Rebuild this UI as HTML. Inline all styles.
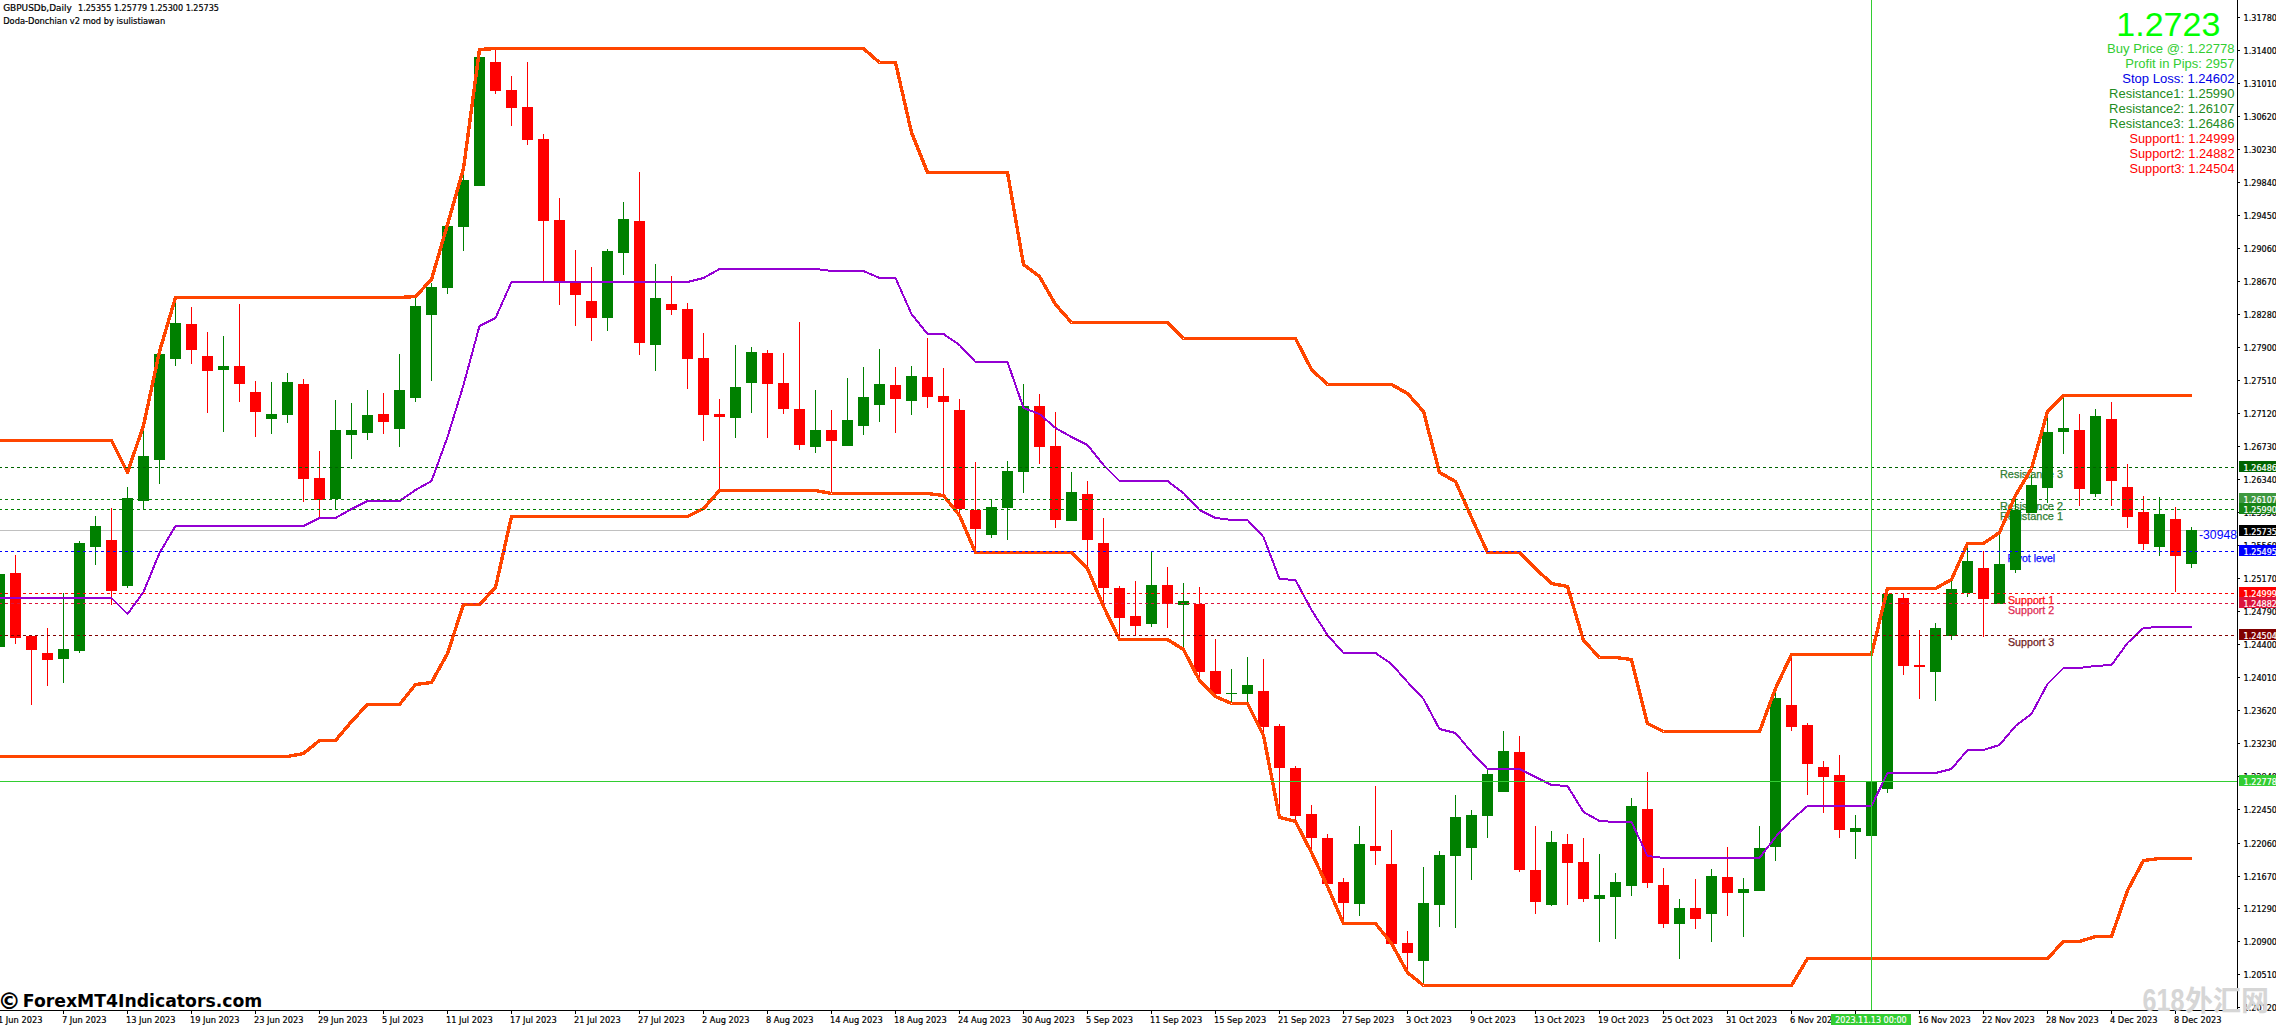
<!DOCTYPE html><html><head><meta charset="utf-8"><title>GBPUSDb Daily - Doda-Donchian</title>
<style>html,body{margin:0;padding:0;background:#fff;width:2276px;height:1025px;overflow:hidden}svg{display:block;position:absolute;left:0;top:0}text{font-family:"Liberation Sans","Noto Sans CJK SC",sans-serif}.s,.w{font-family:"DejaVu Sans Condensed","Liberation Sans",sans-serif;font-size:9.2px}.s{fill:#000;stroke:#000;stroke-width:.2px}.w{fill:#fff;stroke:#fff;stroke-width:.2px}.wm{font-family:"DejaVu Sans","Liberation Sans",sans-serif;font-weight:bold}</style></head><body>
<svg width="2276" height="1025" viewBox="0 0 2276 1025">
<rect width="2276" height="1025" fill="#fff"/>
<text x="2000" y="478" textLength="63" lengthAdjust="spacingAndGlyphs" fill="#2f7d32" font-size="11" stroke="#2f7d32" stroke-width=".25">Resistance 3</text>
<text x="2000" y="509.6" textLength="63" lengthAdjust="spacingAndGlyphs" fill="#2f7d32" font-size="11" stroke="#2f7d32" stroke-width=".25">Resistance 2</text>
<text x="2000" y="519.8" textLength="63" lengthAdjust="spacingAndGlyphs" fill="#2f7d32" font-size="11" stroke="#2f7d32" stroke-width=".25">Resistance 1</text>
<text x="2007.5" y="562" textLength="47.7" lengthAdjust="spacingAndGlyphs" fill="#0a0aff" font-size="11" stroke="#0a0aff" stroke-width=".25">Pivot level</text>
<text x="2008" y="603.6" textLength="46.2" lengthAdjust="spacingAndGlyphs" fill="#ff1010" font-size="11" stroke="#ff1010" stroke-width=".25">Support 1</text>
<text x="2008" y="613.8" textLength="46.2" lengthAdjust="spacingAndGlyphs" fill="#e02850" font-size="11" stroke="#e02850" stroke-width=".25">Support 2</text>
<text x="2008" y="646" textLength="46.2" lengthAdjust="spacingAndGlyphs" fill="#702020" font-size="11" stroke="#702020" stroke-width=".25">Support 3</text>
<g shape-rendering="crispEdges">
<rect x="0" y="530" width="2237" height="1" fill="#c0c0c0"/>
<defs><clipPath id="cp"><rect x="0" y="0" width="2237" height="1010"/></clipPath></defs>
<path fill="#008000" d="M-1 574v73h1v-73zM63 593v90h1v-90zM79 541v112h1v-112zM95 516v49h1v-49zM127 487v101h1v-101zM143 430v79h1v-79zM159 354v130h1v-130zM175 299v67h1v-67zM223 336v96h1v-96zM271 382v52h1v-52zM287 373v50h1v-50zM335 400v109h1v-109zM351 403v56h1v-56zM367 390v50h1v-50zM399 354v93h1v-93zM415 298v104h1v-104zM431 283v98h1v-98zM447 226v68h1v-68zM463 174v77h1v-77zM479 57v129h1v-129zM607 249v82h1v-82zM623 202v73h1v-73zM655 264v107h1v-107zM735 345v93h1v-93zM751 347v66h1v-66zM815 390v63h1v-63zM847 378v68h1v-68zM863 367v68h1v-68zM879 349v73h1v-73zM911 366v49h1v-49zM991 500v38h1v-38zM1007 461v79h1v-79zM1023 384v109h1v-109zM1071 472v49h1v-49zM1151 551v76h1v-76zM1183 583v65h1v-65zM1231 669v33h1v-33zM1247 657v45h1v-45zM1359 826v90h1v-90zM1423 867v117h1v-117zM1439 851v76h1v-76zM1455 795v133h1v-133zM1471 810v70h1v-70zM1487 770v68h1v-68zM1503 731v61h1v-61zM1551 831v75h1v-75zM1599 854v88h1v-88zM1615 873v66h1v-66zM1631 798v98h1v-98zM1679 899v60h1v-60zM1711 869v73h1v-73zM1743 878v59h1v-59zM1759 826v65h1v-65zM1775 691v170h1v-170zM1855 815v44h1v-44zM1871 776v64h1v-64zM1887 590v203h1v-203zM1935 623v78h1v-78zM1951 580v60h1v-60zM1967 544v53h1v-53zM1999 534v70h1v-70zM2015 495v78h1v-78zM2031 475v38h1v-38zM2047 417v86h1v-86zM2063 396v58h1v-58zM2095 409v88h1v-88zM2159 497v59h1v-59zM2191 527v41h1v-41zM-6 574v73h11v-73zM58 649v10h11v-10zM74 543v108h11v-108zM90 526v21h11v-21zM122 498v88h11v-88zM138 456v45h11v-45zM154 354v106h11v-106zM170 323v36h11v-36zM218 366v4h11v-4zM266 414v5h11v-5zM282 382v33h11v-33zM330 430v69h11v-69zM346 430v5h11v-5zM362 415v18h11v-18zM394 390v39h11v-39zM410 306v92h11v-92zM426 287v28h11v-28zM442 226v62h11v-62zM458 180v47h11v-47zM474 57v129h11v-129zM602 251v67h11v-67zM618 219v34h11v-34zM650 298v47h11v-47zM730 387v31h11v-31zM746 352v31h11v-31zM810 430v17h11v-17zM842 420v26h11v-26zM858 397v29h11v-29zM874 384v21h11v-21zM906 376v25h11v-25zM986 507v28h11v-28zM1002 471v37h11v-37zM1018 406v66h11v-66zM1066 492v29h11v-29zM1146 585v39h11v-39zM1178 601v4h11v-4zM1226 693v1h11v-1zM1242 685v9h11v-9zM1354 844v60h11v-60zM1418 903v58h11v-58zM1434 855v50h11v-50zM1450 817v39h11v-39zM1466 815v33h11v-33zM1482 774v42h11v-42zM1498 751v41h11v-41zM1546 842v63h11v-63zM1594 895v4h11v-4zM1610 882v15h11v-15zM1626 806v80h11v-80zM1674 908v16h11v-16zM1706 876v38h11v-38zM1738 889v4h11v-4zM1754 848v43h11v-43zM1770 698v149h11v-149zM1850 828v4h11v-4zM1866 782v54h11v-54zM1882 594v195h11v-195zM1930 628v44h11v-44zM1946 589v47h11v-47zM1962 561v32h11v-32zM1994 564v40h11v-40zM2010 510v60h11v-60zM2026 485v28h11v-28zM2042 432v56h11v-56zM2058 428v4h11v-4zM2090 416v78h11v-78zM2154 514v33h11v-33zM2186 530v34h11v-34z"/>
<path fill="#ff0000" d="M15 555v89h1v-89zM31 635v70h1v-70zM47 628v58h1v-58zM111 508v97h1v-97zM191 307v57h1v-57zM207 332v81h1v-81zM239 304v98h1v-98zM255 381v56h1v-56zM303 379v123h1v-123zM319 451v66h1v-66zM383 393v41h1v-41zM495 49v45h1v-45zM511 76v50h1v-50zM527 62v83h1v-83zM543 134v148h1v-148zM559 198v107h1v-107zM575 250v76h1v-76zM591 267v74h1v-74zM639 172v183h1v-183zM671 276v39h1v-39zM687 303v86h1v-86zM703 333v108h1v-108zM719 399v90h1v-90zM767 350v88h1v-88zM783 353v61h1v-61zM799 322v128h1v-128zM831 410v83h1v-83zM895 367v66h1v-66zM927 338v70h1v-70zM943 368v126h1v-126zM959 399v114h1v-114zM975 462v90h1v-90zM1039 394v70h1v-70zM1055 412v116h1v-116zM1087 481v87h1v-87zM1103 518v86h1v-86zM1119 586v52h1v-52zM1135 581v54h1v-54zM1167 567v61h1v-61zM1199 587v93h1v-93zM1215 639v58h1v-58zM1263 659v76h1v-76zM1279 724v94h1v-94zM1295 766v56h1v-56zM1311 805v45h1v-45zM1327 834v52h1v-52zM1343 878v44h1v-44zM1375 786v79h1v-79zM1391 830v114h1v-114zM1407 931v40h1v-40zM1519 736v136h1v-136zM1535 826v88h1v-88zM1567 834v71h1v-71zM1583 838v64h1v-64zM1647 772v116h1v-116zM1663 868v60h1v-60zM1695 879v50h1v-50zM1727 847v69h1v-69zM1791 655v76h1v-76zM1807 723v72h1v-72zM1823 761v52h1v-52zM1839 755v83h1v-83zM1903 593v82h1v-82zM1919 630v69h1v-69zM1983 551v86h1v-86zM2079 414v92h1v-92zM2111 402v104h1v-104zM2127 464v64h1v-64zM2143 496v54h1v-54zM2175 507v85h1v-85zM10 573v65h11v-65zM26 636v14h11v-14zM42 653v7h11v-7zM106 540v51h11v-51zM186 324v26h11v-26zM202 356v15h11v-15zM234 366v18h11v-18zM250 392v20h11v-20zM298 384v95h11v-95zM314 478v22h11v-22zM378 414v8h11v-8zM490 62v29h11v-29zM506 90v18h11v-18zM522 107v33h11v-33zM538 139v82h11v-82zM554 220v61h11v-61zM570 281v14h11v-14zM586 301v17h11v-17zM634 221v122h11v-122zM666 304v6h11v-6zM682 309v50h11v-50zM698 358v57h11v-57zM714 414v3h11v-3zM762 353v31h11v-31zM778 383v26h11v-26zM794 409v36h11v-36zM826 430v11h11v-11zM890 385v14h11v-14zM922 377v20h11v-20zM938 396v6h11v-6zM954 410v99h11v-99zM970 510v19h11v-19zM1034 406v41h11v-41zM1050 446v74h11v-74zM1082 494v46h11v-46zM1098 543v45h11v-45zM1114 588v30h11v-30zM1130 616v10h11v-10zM1162 585v19h11v-19zM1194 604v68h11v-68zM1210 671v23h11v-23zM1258 691v36h11v-36zM1274 726v42h11v-42zM1290 768v48h11v-48zM1306 814v24h11v-24zM1322 838v46h11v-46zM1338 882v21h11v-21zM1370 846v5h11v-5zM1386 864v80h11v-80zM1402 943v10h11v-10zM1514 752v118h11v-118zM1530 870v32h11v-32zM1562 844v19h11v-19zM1578 862v37h11v-37zM1642 809v74h11v-74zM1658 885v39h11v-39zM1690 908v11h11v-11zM1722 877v16h11v-16zM1786 705v22h11v-22zM1802 725v39h11v-39zM1818 767v10h11v-10zM1834 775v55h11v-55zM1898 598v68h11v-68zM1914 665v2h11v-2zM1978 568v31h11v-31zM2074 430v59h11v-59zM2106 419v62h11v-62zM2122 487v30h11v-30zM2138 512v32h11v-32zM2170 519v37h11v-37z"/>
<polyline fill="none" stroke="#ff4500" stroke-width="3.4" stroke-linejoin="round" points="-0.5,440.5 15.5,440.5 31.5,440.5 47.5,440.5 63.5,440.5 79.5,440.5 95.5,440.5 111.5,440.5 127.5,472.5 143.5,425.5 159.5,351.5 175.5,297.5 191.5,297.5 207.5,297.5 223.5,297.5 239.5,297.5 255.5,297.5 271.5,297.5 287.5,297.5 303.5,297.5 319.5,297.5 335.5,297.5 351.5,297.5 367.5,297.5 383.5,297.5 399.5,297.5 415.5,296.5 431.5,279.5 447.5,224.5 463.5,168.5 479.5,49.5 495.5,48.5 511.5,48.5 527.5,48.5 543.5,48.5 559.5,48.5 575.5,48.5 591.5,48.5 607.5,48.5 623.5,48.5 639.5,48.5 655.5,48.5 671.5,48.5 687.5,48.5 703.5,48.5 719.5,48.5 735.5,48.5 751.5,48.5 767.5,48.5 783.5,48.5 799.5,48.5 815.5,48.5 831.5,48.5 847.5,48.5 863.5,48.5 879.5,62.5 895.5,62.5 911.5,132.5 927.5,172.5 943.5,172.5 959.5,172.5 975.5,172.5 991.5,172.5 1007.5,172.5 1023.5,264.5 1039.5,276.5 1055.5,304.5 1071.5,322.5 1087.5,322.5 1103.5,322.5 1119.5,322.5 1135.5,322.5 1151.5,322.5 1167.5,322.5 1183.5,338.5 1199.5,338.5 1215.5,338.5 1231.5,338.5 1247.5,338.5 1263.5,338.5 1279.5,338.5 1295.5,338.5 1311.5,369.5 1327.5,384.5 1343.5,384.5 1359.5,384.5 1375.5,384.5 1391.5,384.5 1407.5,393.5 1423.5,411.5 1439.5,472.5 1455.5,481.5 1471.5,517.5 1487.5,552.5 1503.5,552.5 1519.5,552.5 1535.5,568.5 1551.5,583.5 1567.5,586.5 1583.5,640.5 1599.5,657.5 1615.5,657.5 1631.5,659.5 1647.5,723.5 1663.5,731.5 1679.5,731.5 1695.5,731.5 1711.5,731.5 1727.5,731.5 1743.5,731.5 1759.5,731.5 1775.5,688.5 1791.5,654.5 1807.5,654.5 1823.5,654.5 1839.5,654.5 1855.5,654.5 1871.5,654.5 1887.5,588.5 1903.5,588.5 1919.5,588.5 1935.5,588.5 1951.5,579.5 1967.5,543.5 1983.5,543.5 1999.5,532.5 2015.5,495.5 2031.5,468.5 2047.5,411.5 2063.5,395.5 2079.5,395.5 2095.5,395.5 2111.5,395.5 2127.5,395.5 2143.5,395.5 2159.5,395.5 2175.5,395.5 2191.5,395.5"/>
<polyline fill="none" stroke="#ff4500" stroke-width="3.4" stroke-linejoin="round" points="-0.5,756.5 15.5,756.5 31.5,756.5 47.5,756.5 63.5,756.5 79.5,756.5 95.5,756.5 111.5,756.5 127.5,756.5 143.5,756.5 159.5,756.5 175.5,756.5 191.5,756.5 207.5,756.5 223.5,756.5 239.5,756.5 255.5,756.5 271.5,756.5 287.5,756.5 303.5,753.5 319.5,740.5 335.5,740.5 351.5,721.5 367.5,704.5 383.5,704.5 399.5,704.5 415.5,684.5 431.5,682.5 447.5,653.5 463.5,604.5 479.5,604.5 495.5,587.5 511.5,516.5 527.5,516.5 543.5,516.5 559.5,516.5 575.5,516.5 591.5,516.5 607.5,516.5 623.5,516.5 639.5,516.5 655.5,516.5 671.5,516.5 687.5,516.5 703.5,508.5 719.5,490.5 735.5,490.5 751.5,490.5 767.5,490.5 783.5,490.5 799.5,490.5 815.5,490.5 831.5,493.5 847.5,493.5 863.5,493.5 879.5,493.5 895.5,493.5 911.5,493.5 927.5,493.5 943.5,495.5 959.5,515.5 975.5,552.5 991.5,552.5 1007.5,552.5 1023.5,552.5 1039.5,552.5 1055.5,552.5 1071.5,552.5 1087.5,568.5 1103.5,606.5 1119.5,639.5 1135.5,639.5 1151.5,639.5 1167.5,639.5 1183.5,649.5 1199.5,680.5 1215.5,696.5 1231.5,703.5 1247.5,703.5 1263.5,735.5 1279.5,817.5 1295.5,821.5 1311.5,852.5 1327.5,886.5 1343.5,923.5 1359.5,923.5 1375.5,923.5 1391.5,943.5 1407.5,972.5 1423.5,985.5 1439.5,985.5 1455.5,985.5 1471.5,985.5 1487.5,985.5 1503.5,985.5 1519.5,985.5 1535.5,985.5 1551.5,985.5 1567.5,985.5 1583.5,985.5 1599.5,985.5 1615.5,985.5 1631.5,985.5 1647.5,985.5 1663.5,985.5 1679.5,985.5 1695.5,985.5 1711.5,985.5 1727.5,985.5 1743.5,985.5 1759.5,985.5 1775.5,985.5 1791.5,985.5 1807.5,958.5 1823.5,958.5 1839.5,958.5 1855.5,958.5 1871.5,958.5 1887.5,958.5 1903.5,958.5 1919.5,958.5 1935.5,958.5 1951.5,958.5 1967.5,958.5 1983.5,958.5 1999.5,958.5 2015.5,958.5 2031.5,958.5 2047.5,958.5 2063.5,941.5 2079.5,941.5 2095.5,936.5 2111.5,936.5 2127.5,890.5 2143.5,860.5 2159.5,858.5 2175.5,858.5 2191.5,858.5"/>
<polyline fill="none" stroke="#9400d3" stroke-width="2" stroke-linejoin="round" points="-0.5,598 15.5,598 31.5,598 47.5,598 63.5,598 79.5,598 95.5,598 111.5,598 127.5,614 143.5,592 159.5,553 175.5,526 191.5,526 207.5,526 223.5,526 239.5,526 255.5,526 271.5,526 287.5,526 303.5,526 319.5,518 335.5,518 351.5,509 367.5,501 383.5,501 399.5,501 415.5,490 431.5,481 447.5,437 463.5,385 479.5,326 495.5,318 511.5,282 527.5,282 543.5,282 559.5,282 575.5,282 591.5,282 607.5,282 623.5,282 639.5,282 655.5,282 671.5,282 687.5,282 703.5,278 719.5,269 735.5,269 751.5,269 767.5,269 783.5,269 799.5,269 815.5,269 831.5,271 847.5,271 863.5,271 879.5,278 895.5,278 911.5,314 927.5,334 943.5,334 959.5,345 975.5,362 991.5,362 1007.5,362 1023.5,408 1039.5,414 1055.5,428 1071.5,437 1087.5,445 1103.5,465 1119.5,481 1135.5,481 1151.5,481 1167.5,481 1183.5,493 1199.5,510 1215.5,518 1231.5,520 1247.5,520 1263.5,537 1279.5,579 1295.5,580 1311.5,610 1327.5,635 1343.5,653 1359.5,653 1375.5,653 1391.5,664 1407.5,682 1423.5,699 1439.5,729 1455.5,733 1471.5,752 1487.5,769 1503.5,769 1519.5,769 1535.5,777 1551.5,785 1567.5,786 1583.5,812 1599.5,821 1615.5,822 1631.5,822 1647.5,856 1663.5,858 1679.5,858 1695.5,858 1711.5,858 1727.5,858 1743.5,858 1759.5,858 1775.5,837 1791.5,820 1807.5,806 1823.5,806 1839.5,806 1855.5,806 1871.5,806 1887.5,773 1903.5,773 1919.5,773 1935.5,773 1951.5,769 1967.5,750 1983.5,750 1999.5,745 2015.5,726 2031.5,714 2047.5,684 2063.5,668 2079.5,668 2095.5,666 2111.5,665 2127.5,643 2143.5,628 2159.5,627 2175.5,627 2191.5,627"/>
<line x1="-1" y1="467.5" x2="2237" y2="467.5" stroke="#006400" stroke-width="1" stroke-dasharray="3 3"/>
<line x1="-1" y1="499.5" x2="2237" y2="499.5" stroke="#0a7a0a" stroke-width="1" stroke-dasharray="3 3"/>
<line x1="-1" y1="509.5" x2="2237" y2="509.5" stroke="#008000" stroke-width="1" stroke-dasharray="3 3"/>
<line x1="-1" y1="551.5" x2="2237" y2="551.5" stroke="#0000ff" stroke-width="1" stroke-dasharray="3 3"/>
<line x1="-1" y1="593.5" x2="2237" y2="593.5" stroke="#ff0000" stroke-width="1" stroke-dasharray="3 3"/>
<line x1="-1" y1="603.5" x2="2237" y2="603.5" stroke="#dc143c" stroke-width="1" stroke-dasharray="3 3"/>
<line x1="-1" y1="635.5" x2="2237" y2="635.5" stroke="#800000" stroke-width="1" stroke-dasharray="3 3"/>
<rect x="0" y="781" width="2237" height="1" fill="#32cd32"/>
<rect x="1871" y="0" width="1" height="1010" fill="#32cd32"/>
<rect x="2237" y="0" width="1" height="1011" fill="#000"/>
<rect x="0" y="1010" width="2238" height="1" fill="#000"/>
<path fill="#000" d="M2238 17h2v1h-2zM2238 50h2v1h-2zM2238 83h2v1h-2zM2238 116h2v1h-2zM2238 149h2v1h-2zM2238 182h2v1h-2zM2238 215h2v1h-2zM2238 248h2v1h-2zM2238 281h2v1h-2zM2238 314h2v1h-2zM2238 347h2v1h-2zM2238 380h2v1h-2zM2238 413h2v1h-2zM2238 446h2v1h-2zM2238 479h2v1h-2zM2238 512h2v1h-2zM2238 545h2v1h-2zM2238 578h2v1h-2zM2238 611h2v1h-2zM2238 644h2v1h-2zM2238 677h2v1h-2zM2238 710h2v1h-2zM2238 743h2v1h-2zM2238 776h2v1h-2zM2238 809h2v1h-2zM2238 843h2v1h-2zM2238 876h2v1h-2zM2238 908h2v1h-2zM2238 941h2v1h-2zM2238 974h2v1h-2zM2238 1007h2v1h-2zM63 1011v3h1v-3zM127 1011v3h1v-3zM191 1011v3h1v-3zM255 1011v3h1v-3zM319 1011v3h1v-3zM383 1011v3h1v-3zM447 1011v3h1v-3zM511 1011v3h1v-3zM575 1011v3h1v-3zM639 1011v3h1v-3zM703 1011v3h1v-3zM767 1011v3h1v-3zM831 1011v3h1v-3zM895 1011v3h1v-3zM959 1011v3h1v-3zM1023 1011v3h1v-3zM1087 1011v3h1v-3zM1151 1011v3h1v-3zM1215 1011v3h1v-3zM1279 1011v3h1v-3zM1343 1011v3h1v-3zM1407 1011v3h1v-3zM1471 1011v3h1v-3zM1535 1011v3h1v-3zM1599 1011v3h1v-3zM1663 1011v3h1v-3zM1727 1011v3h1v-3zM1791 1011v3h1v-3zM1855 1011v3h1v-3zM1919 1011v3h1v-3zM1983 1011v3h1v-3zM2047 1011v3h1v-3zM2111 1011v3h1v-3zM2175 1011v3h1v-3z"/>
</g>
<text x="2243.6" y="21" textLength="33.3" lengthAdjust="spacingAndGlyphs" class="s">1.31780</text>
<text x="2243.6" y="54" textLength="33.3" lengthAdjust="spacingAndGlyphs" class="s">1.31400</text>
<text x="2243.6" y="87" textLength="33.3" lengthAdjust="spacingAndGlyphs" class="s">1.31010</text>
<text x="2243.6" y="120" textLength="33.3" lengthAdjust="spacingAndGlyphs" class="s">1.30620</text>
<text x="2243.6" y="153" textLength="33.3" lengthAdjust="spacingAndGlyphs" class="s">1.30230</text>
<text x="2243.6" y="186" textLength="33.3" lengthAdjust="spacingAndGlyphs" class="s">1.29840</text>
<text x="2243.6" y="219" textLength="33.3" lengthAdjust="spacingAndGlyphs" class="s">1.29450</text>
<text x="2243.6" y="252" textLength="33.3" lengthAdjust="spacingAndGlyphs" class="s">1.29060</text>
<text x="2243.6" y="285" textLength="33.3" lengthAdjust="spacingAndGlyphs" class="s">1.28670</text>
<text x="2243.6" y="318" textLength="33.3" lengthAdjust="spacingAndGlyphs" class="s">1.28280</text>
<text x="2243.6" y="351" textLength="33.3" lengthAdjust="spacingAndGlyphs" class="s">1.27900</text>
<text x="2243.6" y="384" textLength="33.3" lengthAdjust="spacingAndGlyphs" class="s">1.27510</text>
<text x="2243.6" y="417" textLength="33.3" lengthAdjust="spacingAndGlyphs" class="s">1.27120</text>
<text x="2243.6" y="450" textLength="33.3" lengthAdjust="spacingAndGlyphs" class="s">1.26730</text>
<text x="2243.6" y="483" textLength="33.3" lengthAdjust="spacingAndGlyphs" class="s">1.26340</text>
<text x="2243.6" y="516" textLength="33.3" lengthAdjust="spacingAndGlyphs" class="s">1.25950</text>
<text x="2243.6" y="549" textLength="33.3" lengthAdjust="spacingAndGlyphs" class="s">1.25560</text>
<text x="2243.6" y="582" textLength="33.3" lengthAdjust="spacingAndGlyphs" class="s">1.25170</text>
<text x="2243.6" y="615" textLength="33.3" lengthAdjust="spacingAndGlyphs" class="s">1.24790</text>
<text x="2243.6" y="648" textLength="33.3" lengthAdjust="spacingAndGlyphs" class="s">1.24400</text>
<text x="2243.6" y="681" textLength="33.3" lengthAdjust="spacingAndGlyphs" class="s">1.24010</text>
<text x="2243.6" y="714" textLength="33.3" lengthAdjust="spacingAndGlyphs" class="s">1.23620</text>
<text x="2243.6" y="747" textLength="33.3" lengthAdjust="spacingAndGlyphs" class="s">1.23230</text>
<text x="2243.6" y="780" textLength="33.3" lengthAdjust="spacingAndGlyphs" class="s">1.22840</text>
<text x="2243.6" y="813" textLength="33.3" lengthAdjust="spacingAndGlyphs" class="s">1.22450</text>
<text x="2243.6" y="847" textLength="33.3" lengthAdjust="spacingAndGlyphs" class="s">1.22060</text>
<text x="2243.6" y="880" textLength="33.3" lengthAdjust="spacingAndGlyphs" class="s">1.21670</text>
<text x="2243.6" y="912" textLength="33.3" lengthAdjust="spacingAndGlyphs" class="s">1.21290</text>
<text x="2243.6" y="945" textLength="33.3" lengthAdjust="spacingAndGlyphs" class="s">1.20900</text>
<text x="2243.6" y="978" textLength="33.3" lengthAdjust="spacingAndGlyphs" class="s">1.20510</text>
<text x="2243.6" y="1011" textLength="33.3" lengthAdjust="spacingAndGlyphs" class="s">1.20120</text>
<rect x="2239" y="461" width="37" height="11" fill="#006400" shape-rendering="crispEdges"/>
<text x="2243.6" y="471" textLength="33.3" lengthAdjust="spacingAndGlyphs" class="w">1.26486</text>
<rect x="2239" y="493" width="37" height="11" fill="#3f983f" shape-rendering="crispEdges"/>
<text x="2243.6" y="503" textLength="33.3" lengthAdjust="spacingAndGlyphs" class="w">1.26107</text>
<rect x="2239" y="503" width="37" height="11" fill="#168416" shape-rendering="crispEdges"/>
<text x="2243.6" y="513" textLength="33.3" lengthAdjust="spacingAndGlyphs" class="w">1.25990</text>
<rect x="2239" y="525" width="37" height="11" fill="#000" shape-rendering="crispEdges"/>
<text x="2243.6" y="535" textLength="33.3" lengthAdjust="spacingAndGlyphs" class="w">1.25735</text>
<rect x="2239" y="545" width="37" height="11" fill="#0000ff" shape-rendering="crispEdges"/>
<text x="2243.6" y="555" textLength="33.3" lengthAdjust="spacingAndGlyphs" class="w">1.25495</text>
<rect x="2239" y="587" width="37" height="11" fill="#ff0000" shape-rendering="crispEdges"/>
<text x="2243.6" y="597" textLength="33.3" lengthAdjust="spacingAndGlyphs" class="w">1.24999</text>
<rect x="2239" y="597" width="37" height="11" fill="#dc143c" shape-rendering="crispEdges"/>
<text x="2243.6" y="607" textLength="33.3" lengthAdjust="spacingAndGlyphs" class="w">1.24882</text>
<rect x="2239" y="629" width="37" height="11" fill="#800000" shape-rendering="crispEdges"/>
<text x="2243.6" y="639" textLength="33.3" lengthAdjust="spacingAndGlyphs" class="w">1.24504</text>
<rect x="2239" y="775" width="37" height="11" fill="#32cd32" shape-rendering="crispEdges"/>
<text x="2243.6" y="785" textLength="33.3" lengthAdjust="spacingAndGlyphs" class="w">1.22778</text>
<text x="-2" y="1023" textLength="44.4" lengthAdjust="spacingAndGlyphs" class="s">1 Jun 2023</text>
<text x="62" y="1023" textLength="44.4" lengthAdjust="spacingAndGlyphs" class="s">7 Jun 2023</text>
<text x="126" y="1023" textLength="49.6" lengthAdjust="spacingAndGlyphs" class="s">13 Jun 2023</text>
<text x="190" y="1023" textLength="49.6" lengthAdjust="spacingAndGlyphs" class="s">19 Jun 2023</text>
<text x="254" y="1023" textLength="49.6" lengthAdjust="spacingAndGlyphs" class="s">23 Jun 2023</text>
<text x="318" y="1023" textLength="49.6" lengthAdjust="spacingAndGlyphs" class="s">29 Jun 2023</text>
<text x="382" y="1023" textLength="41.4" lengthAdjust="spacingAndGlyphs" class="s">5 Jul 2023</text>
<text x="446" y="1023" textLength="46.7" lengthAdjust="spacingAndGlyphs" class="s">11 Jul 2023</text>
<text x="510" y="1023" textLength="46.7" lengthAdjust="spacingAndGlyphs" class="s">17 Jul 2023</text>
<text x="574" y="1023" textLength="46.7" lengthAdjust="spacingAndGlyphs" class="s">21 Jul 2023</text>
<text x="638" y="1023" textLength="46.7" lengthAdjust="spacingAndGlyphs" class="s">27 Jul 2023</text>
<text x="702" y="1023" textLength="47.6" lengthAdjust="spacingAndGlyphs" class="s">2 Aug 2023</text>
<text x="766" y="1023" textLength="47.6" lengthAdjust="spacingAndGlyphs" class="s">8 Aug 2023</text>
<text x="830" y="1023" textLength="52.8" lengthAdjust="spacingAndGlyphs" class="s">14 Aug 2023</text>
<text x="894" y="1023" textLength="52.8" lengthAdjust="spacingAndGlyphs" class="s">18 Aug 2023</text>
<text x="958" y="1023" textLength="52.8" lengthAdjust="spacingAndGlyphs" class="s">24 Aug 2023</text>
<text x="1022" y="1023" textLength="52.8" lengthAdjust="spacingAndGlyphs" class="s">30 Aug 2023</text>
<text x="1086" y="1023" textLength="47.0" lengthAdjust="spacingAndGlyphs" class="s">5 Sep 2023</text>
<text x="1150" y="1023" textLength="52.3" lengthAdjust="spacingAndGlyphs" class="s">11 Sep 2023</text>
<text x="1214" y="1023" textLength="52.3" lengthAdjust="spacingAndGlyphs" class="s">15 Sep 2023</text>
<text x="1278" y="1023" textLength="52.3" lengthAdjust="spacingAndGlyphs" class="s">21 Sep 2023</text>
<text x="1342" y="1023" textLength="52.3" lengthAdjust="spacingAndGlyphs" class="s">27 Sep 2023</text>
<text x="1406" y="1023" textLength="45.7" lengthAdjust="spacingAndGlyphs" class="s">3 Oct 2023</text>
<text x="1470" y="1023" textLength="45.7" lengthAdjust="spacingAndGlyphs" class="s">9 Oct 2023</text>
<text x="1534" y="1023" textLength="51.0" lengthAdjust="spacingAndGlyphs" class="s">13 Oct 2023</text>
<text x="1598" y="1023" textLength="51.0" lengthAdjust="spacingAndGlyphs" class="s">19 Oct 2023</text>
<text x="1662" y="1023" textLength="51.0" lengthAdjust="spacingAndGlyphs" class="s">25 Oct 2023</text>
<text x="1726" y="1023" textLength="51.0" lengthAdjust="spacingAndGlyphs" class="s">31 Oct 2023</text>
<text x="1790" y="1023" textLength="47.6" lengthAdjust="spacingAndGlyphs" class="s">6 Nov 2023</text>
<text x="1854" y="1023" textLength="52.8" lengthAdjust="spacingAndGlyphs" class="s">10 Nov 2023</text>
<text x="1918" y="1023" textLength="52.8" lengthAdjust="spacingAndGlyphs" class="s">16 Nov 2023</text>
<text x="1982" y="1023" textLength="52.8" lengthAdjust="spacingAndGlyphs" class="s">22 Nov 2023</text>
<text x="2046" y="1023" textLength="52.8" lengthAdjust="spacingAndGlyphs" class="s">28 Nov 2023</text>
<text x="2110" y="1023" textLength="47.4" lengthAdjust="spacingAndGlyphs" class="s">4 Dec 2023</text>
<text x="2174" y="1023" textLength="47.4" lengthAdjust="spacingAndGlyphs" class="s">8 Dec 2023</text>
<rect x="1831" y="1014" width="80" height="11" fill="#32cd32" shape-rendering="crispEdges"/>
<text x="1835.2" y="1023" textLength="71.5" lengthAdjust="spacingAndGlyphs" class="w">2023.11.13 00:00</text>
<text x="2199" y="538.7" textLength="38" lengthAdjust="spacingAndGlyphs" fill="#0000ff" font-size="13.3">-30948</text>
<text x="3.2" y="11" textLength="68.6" lengthAdjust="spacingAndGlyphs" class="s">GBPUSDb,Daily</text>
<text x="78" y="11" textLength="141" lengthAdjust="spacingAndGlyphs" class="s">1.25355 1.25779 1.25300 1.25735</text>
<text x="3.2" y="24" textLength="162" lengthAdjust="spacingAndGlyphs" class="s">Doda-Donchian v2 mod by isulistiawan</text>
<text x="2220.3" y="36.2" text-anchor="end" fill="#00ff00" font-size="34">1.2723</text>
<text x="2234.5" y="52.7" text-anchor="end" textLength="127.4" lengthAdjust="spacingAndGlyphs" fill="#32cd32" font-size="13">Buy Price @: 1.22778</text>
<text x="2234.5" y="68.2" text-anchor="end" textLength="109.2" lengthAdjust="spacingAndGlyphs" fill="#32cd32" font-size="13">Profit in Pips: 2957</text>
<text x="2234.5" y="82.7" text-anchor="end" textLength="112.2" lengthAdjust="spacingAndGlyphs" fill="#0000e6" font-size="13">Stop Loss: 1.24602</text>
<text x="2234.5" y="97.6" text-anchor="end" textLength="125.4" lengthAdjust="spacingAndGlyphs" fill="#228b22" font-size="13">Resistance1: 1.25990</text>
<text x="2234.5" y="112.6" text-anchor="end" textLength="125.4" lengthAdjust="spacingAndGlyphs" fill="#228b22" font-size="13">Resistance2: 1.26107</text>
<text x="2234.5" y="127.7" text-anchor="end" textLength="125.4" lengthAdjust="spacingAndGlyphs" fill="#228b22" font-size="13">Resistance3: 1.26486</text>
<text x="2234.5" y="142.8" text-anchor="end" textLength="105" lengthAdjust="spacingAndGlyphs" fill="#ff0000" font-size="13">Support1: 1.24999</text>
<text x="2234.5" y="157.7" text-anchor="end" textLength="105" lengthAdjust="spacingAndGlyphs" fill="#ff0000" font-size="13">Support2: 1.24882</text>
<text x="2234.5" y="172.7" text-anchor="end" textLength="105" lengthAdjust="spacingAndGlyphs" fill="#ff0000" font-size="13">Support3: 1.24504</text>
<text x="-2.3" y="1009" class="wm" fill="#000" font-size="23">&#169;</text>
<text x="22.8" y="1006.7" textLength="239.5" lengthAdjust="spacingAndGlyphs" class="wm" fill="#000" font-size="18">ForexMT4Indicators.com</text>
<text x="2142.5" y="1011" font-size="30.5" font-weight="bold" fill="#d6d6d6" textLength="42" lengthAdjust="spacingAndGlyphs">618</text>
<text x="2185" y="1010.5" font-size="28" font-weight="bold" fill="#d6d6d6" textLength="84" lengthAdjust="spacingAndGlyphs" font-family="'Liberation Sans','Noto Sans CJK SC',sans-serif">外汇网</text>
</svg></body></html>
